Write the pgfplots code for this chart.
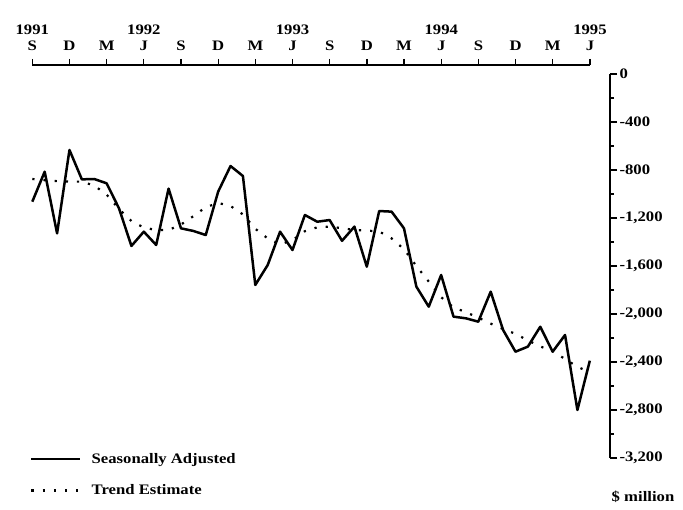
\documentclass[border=0pt]{standalone}
\usepackage{fontspec}
\setmainfont{Liberation Serif}[FakeStretch=1.15]
\usepackage{pgfplots}
\usepackage{pgfplotstable}
\pgfplotsset{compat=1.18}

\pgfplotstableread{
i sa trend
0 -1064 -875
1 -814 -885
2 -1328 -893
3 -633 -897
4 -878 -897
5 -875 -930
6 -911 -1005
7 -1120 -1125
8 -1433 -1225
9 -1314 -1280
10 -1425 -1300
11 -955 -1300
12 -1286 -1255
13 -1308 -1185
14 -1342 -1110
15 -981 -1075
16 -767 -1100
17 -850 -1170
18 -1758 -1290
19 -1592 -1370
20 -1314 -1420
21 -1467 -1385
22 -1175 -1310
23 -1231 -1278
24 -1217 -1272
25 -1390 -1285
26 -1272 -1300
27 -1606 -1305
28 -1142 -1312
29 -1147 -1370
30 -1286 -1460
31 -1772 -1600
32 -1939 -1730
33 -1675 -1860
34 -2022 -1945
35 -2036 -1985
36 -2064 -2030
37 -1814 -2080
38 -2133 -2125
39 -2314 -2165
40 -2272 -2220
41 -2106 -2270
42 -2314 -2310
43 -2175 -2375
44 -2800 -2440
45 -2389 -2485
}\data

\begin{document}
\begin{tikzpicture}[x=1pt,y=1pt]
\useasboundingbox (0,0) rectangle (683,509);
\begin{axis}[
  at={(32.3pt,51pt)}, anchor=south west,
  scale only axis, width=577.7pt, height=384pt,
  xmin=0, xmax=46.63, ymin=-3200, ymax=0,
  axis x line=none, axis y line=right,
  y axis line style={-, line width=1.5pt},
  ytick={-3200,-2800,...,0},
  yticklabels={{-3,200},{-2,800},{-2,400},{-2,000},{-1,600},{-1,200},{-800},{-400},{0}},
  minor y tick num=1,
  tick align=outside,
  major tick length=7pt, minor tick length=4pt,
  every tick/.style={line width=1.3pt, black},
  yticklabel style={font=\fontsize{14.5}{16}\selectfont\bfseries, anchor=west, xshift=-1pt},
  legend style={draw=none, fill=none, at={(-0.004,0.013)}, anchor=north west,
    font=\fontsize{14.5}{16}\selectfont\bfseries, row sep=20pt, inner sep=0pt,
    nodes={inner sep=0pt}},
  legend image code/.code={\draw[#1] (0pt,0pt) -- (49pt,0pt);},
  legend cell align=left,
  /tikz/every even column/.append style={column sep=0pt},
  clip=false,
]
\addplot[black, line width=2.5pt, line join=round] table[x=i, y=sa] {\data};
\addlegendentry{\hspace{10pt}Seasonally Adjusted}
\addplot[black, line width=2.2pt, dash pattern=on 2.2pt off 9pt] table[x=i, y=trend] {\data};
\addlegendentry{\hspace{10pt}Trend Estimate}
\end{axis}
\begin{axis}[
  at={(32.3pt,444pt)}, anchor=north west,
  scale only axis, width=557.7pt, height=10pt,
  xmin=0, xmax=45, ymin=0, ymax=1,
  axis x line=top, axis y line=none,
  x axis line style={-, line width=1.5pt},
  xtick={0,3,...,45},
  xticklabels={S,D,M,J,S,D,M,J,S,D,M,J,S,D,M,J},
  tick align=outside, major tick length=6pt,
  every tick/.style={line width=1.3pt, black},
  xticklabel style={font=\fontsize{14.5}{16}\selectfont\bfseries, anchor=base, yshift=8pt},
  extra x ticks={0,9,21,33,45},
  extra x tick labels={1991,1992,1993,1994,1995},
  extra x tick style={major tick length=0pt, xticklabel style={yshift=22pt}},
]
\end{axis}
\node[font=\fontsize{14.5}{16}\selectfont\bfseries] at (643,12) {\$ million};
\end{tikzpicture}
\end{document}
